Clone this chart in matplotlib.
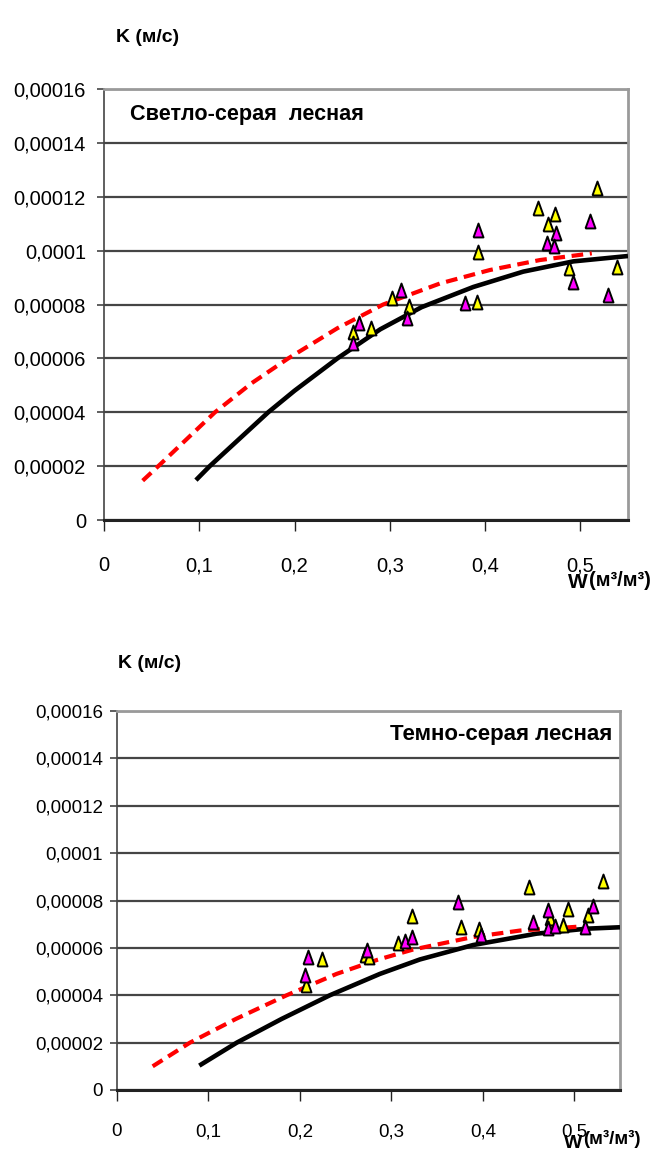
import matplotlib
matplotlib.use("Agg")
import matplotlib.pyplot as plt
from matplotlib.ticker import MultipleLocator, FuncFormatter

plt.rcParams['font.family'] = ['Liberation Sans', 'DejaVu Sans']

# Светло-серая лесная
top_yel_w = [0.5177, 0.456, 0.4736, 0.466, 0.3928, 0.4883, 0.5383, 0.3022, 0.3204, 0.3917, 0.2798, 0.2616]
top_yel_k = [0.0001231, 0.0001160, 0.0001135, 0.0001097, 0.0000996, 0.0000934, 0.0000938,
             0.0000823, 0.0000795, 0.0000810, 0.0000714, 0.0000698]
top_mag_w = [0.3928, 0.5103, 0.4743, 0.4652, 0.4722, 0.4925, 0.5289, 0.3116, 0.3785, 0.3176, 0.2676, 0.2609]
top_mag_k = [0.0001076, 0.0001110, 0.0001064, 0.0001030, 0.0001018, 0.0000884, 0.0000835,
             0.0000853, 0.0000804, 0.0000751, 0.0000730, 0.0000656]
top_black_w = [0.0965, 0.111, 0.1724, 0.2, 0.245, 0.29, 0.3333, 0.3876, 0.44, 0.4925, 0.55]
top_black_k = [0.0000148, 0.00002, 0.00004, 0.000048, 0.00006, 0.0000708, 0.000079, 0.0000865,
               0.0000922, 0.000096, 0.000098]
top_red_w = [0.0406, 0.057, 0.1165, 0.155, 0.1934, 0.245, 0.293, 0.3526, 0.405, 0.4575, 0.512]
top_red_k = [0.0000146, 0.00002, 0.00004, 0.0000508, 0.00006, 0.0000712, 0.00008, 0.0000878,
             0.0000928, 0.0000965, 0.000099]

# Темно-серая лесная
bot_yel_w = [0.2237, 0.2066, 0.271, 0.2757, 0.3075, 0.3231, 0.376, 0.396, 0.4506, 0.4732,
             0.4936, 0.4878, 0.5155, 0.5315]
bot_yel_k = [0.0000555, 0.0000445, 0.0000568, 0.0000562, 0.0000621, 0.0000733, 0.0000687, 0.0000681,
             0.0000856, 0.0000727, 0.0000766, 0.0000695, 0.0000738, 0.0000884]
bot_mag_w = [0.2084, 0.2055, 0.2729, 0.3151, 0.3228, 0.373, 0.3975, 0.4546, 0.471, 0.471,
             0.4794, 0.5206, 0.5122]
bot_mag_k = [0.0000562, 0.0000487, 0.0000593, 0.0000628, 0.0000646, 0.0000794, 0.0000656, 0.0000708,
             0.0000762, 0.0000684, 0.0000694, 0.0000778, 0.0000689]
bot_black_w = [0.09, 0.131, 0.18, 0.2328, 0.2874, 0.3311, 0.3894, 0.4587, 0.5133, 0.55]
bot_black_k = [0.0000103, 0.00002, 0.000030, 0.00004, 0.000049, 0.0000551, 0.0000612, 0.000066,
               0.0000681, 0.0000687]
bot_red_w = [0.039, 0.0798, 0.13, 0.1855, 0.24, 0.285, 0.3238, 0.3894, 0.4404, 0.5024, 0.512]
bot_red_k = [0.00001, 0.00002, 0.000030, 0.00004, 0.000049, 0.000055, 0.0000593, 0.0000646,
             0.0000673, 0.0000689, 0.000069]

W, H = 661, 1155
tri = [(-0.72, -1), (0.72, -1), (0, 1), (-0.72, -1)]


def yfmt(v, pos):
    s = f"{v:.5f}".rstrip('0').rstrip('.')
    return s.replace('.', ',')


def xfmt(v, pos):
    s = f"{v:.1f}".rstrip('0').rstrip('.')
    return s.replace('.', ',')


def panel(rect, yel, mag, black, red, title, title_x, ha, fs, tfs, ypad, xpad):
    l, t, r, b = rect
    ax = fig.add_axes([l / W, 1 - b / H, (r - l) / W, (b - t) / H])
    ax.set_xlim(0, 0.55)
    ax.set_ylim(0, 0.00016)
    ax.yaxis.set_major_locator(MultipleLocator(0.00002))
    ax.xaxis.set_major_locator(MultipleLocator(0.1))
    ax.yaxis.set_major_formatter(FuncFormatter(yfmt))
    ax.xaxis.set_major_formatter(FuncFormatter(xfmt))
    ax.grid(axis='y', color='#454545', lw=1.6)
    ax.set_axisbelow(True)
    for s in ['top', 'right']:
        ax.spines[s].set_color('#9a9a9a')
        ax.spines[s].set_linewidth(2)
    ax.spines['left'].set_color('#444444')
    ax.spines['left'].set_linewidth(1.2)
    ax.spines['bottom'].set_color('#222222')
    ax.spines['bottom'].set_linewidth(2.2)
    ax.tick_params(axis='y', direction='out', length=5, width=1.2, color='#444444',
                   labelsize=fs, pad=ypad)
    ax.tick_params(axis='x', direction='out', length=8, width=1.0, color='#222222',
                   labelsize=fs, pad=xpad)

    ax.plot(black[0], black[1], color='black', lw=3.3, solid_capstyle='butt',
            solid_joinstyle='round', zorder=3)
    ax.plot(red[0], red[1], color='#ff0000', lw=3.0, ls=(0, (2.8, 1.6)),
            dash_capstyle='butt', zorder=3)
    ax.plot(yel[0], yel[1], ls='none', marker=tri, ms=10, mfc='#ffff00', mec='black',
            mew=1.4, zorder=4, clip_on=False)
    ax.plot(mag[0], mag[1], ls='none', marker=tri, ms=10, mfc='#ff00ff', mec='black',
            mew=1.4, zorder=4, clip_on=False)

    ax.text(title_x, 0.965, title, transform=ax.transAxes, ha=ha, va='top',
            fontsize=tfs, fontweight='bold')
    return ax


fig = plt.figure(figsize=(W / 100, H / 100), dpi=100)

panel((104, 89, 628, 520), (top_yel_w, top_yel_k), (top_mag_w, top_mag_k),
      (top_black_w, top_black_k), (top_red_w, top_red_k),
      'Светло-серая  лесная', 0.05, 'left', 14.5, 15.6, 8, 18)
panel((117, 711, 620, 1090), (bot_yel_w, bot_yel_k), (bot_mag_w, bot_mag_k),
      (bot_black_w, bot_black_k), (bot_red_w, bot_red_k),
      'Темно-серая лесная', 0.985, 'right', 13.5, 16, 5, 16)

fig.text(148 / W, 1 - 37 / H, 'K (м/с)', ha='center', va='center', fontsize=14, fontweight='bold')
fig.text(150 / W, 1 - 663 / H, 'K (м/с)', ha='center', va='center', fontsize=14, fontweight='bold')

fig.text(578 / W, 1 - 583 / H, 'W', ha='center', va='center', fontsize=15, fontweight='bold')
fig.text(589 / W, 1 - 580 / H, '(м³/м³)', ha='left', va='center', fontsize=14.5, fontweight='bold')
fig.text(573 / W, 1 - 1143 / H, 'W', ha='center', va='center', fontsize=14, fontweight='bold')
fig.text(583 / W, 1 - 1139 / H, '(м³/м³)', ha='left', va='center', fontsize=13.5, fontweight='bold')

fig.savefig('out.png', dpi=100)
